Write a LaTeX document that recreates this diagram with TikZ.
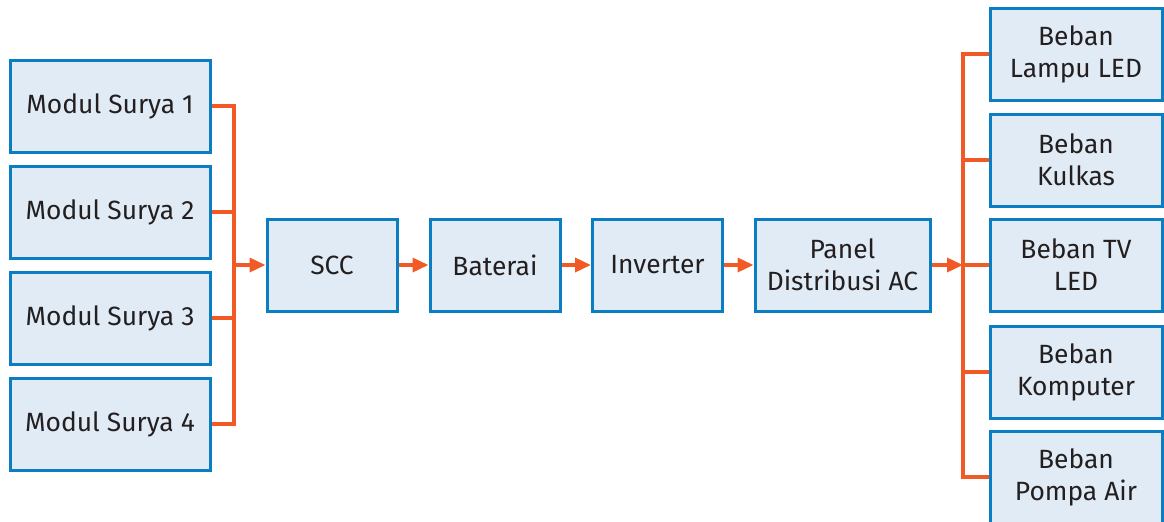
\documentclass[tikz,border=0pt]{standalone}
\usepackage{fontspec}
\setmainfont{Fira Sans}
\usepackage{xcolor}
\usetikzlibrary{arrows.meta,positioning}

\definecolor{boxfill}{HTML}{E1EBF5}
\definecolor{boxline}{HTML}{0B7DC3}
\definecolor{wire}{HTML}{F15A24}
\definecolor{ink}{HTML}{231F20}

\begin{document}
\begin{tikzpicture}[x=0.5pt,y=-0.5pt,
        blok/.style={draw=boxline,fill=boxfill,line width=1.5pt,text=ink,
                align=center,inner sep=0pt,minimum height=46pt,
                font=\fontsize{13.2}{16}\selectfont},
        wire/.style={draw=wire,line width=1.8pt},
        flow/.style={wire,-{Triangle[length=8pt,width=7pt]}}]
        \useasboundingbox (0,0) rectangle (1164,521);
        % panel surya
        \node [blok,minimum width=100pt] (m1) at (110,106) {Modul Surya 1};
        \node [blok,minimum width=100pt] (m2) at (110,212) {Modul Surya 2};
        \node [blok,minimum width=100pt] (m3) at (110,318) {Modul Surya 3};
        \node [blok,minimum width=100pt] (m4) at (110,424) {Modul Surya 4};
        % jalur utama
        \node [blok,minimum width=65pt] (scc) at (332,265) {SCC};
        \node [blok,minimum width=65pt] (bat) at (495,265) {Baterai};
        \node [blok,minimum width=65pt] (inv) at (657.5,265) {Inverter};
        \node [blok,minimum width=87.5pt] (pdac) at (842.5,265) {Panel\\Distribusi AC};
        % beban
        \node [blok,minimum width=86pt] (b1) at (1076,54) {Beban\\Lampu LED};
        \node [blok,minimum width=86pt] (b2) at (1076,160) {Beban\\Kulkas};
        \node [blok,minimum width=86pt] (b3) at (1076,265) {Beban TV\\LED};
        \node [blok,minimum width=86pt] (b4) at (1076,372) {Beban\\Komputer};
        \node [blok,minimum width=86pt] (b5) at (1076,477) {Beban\\Pompa Air};
        \coordinate (lb) at (234,265);
        \coordinate (rb) at (963,265);
        % bus kiri
        \draw [wire] (m1.east) -| (lb) |- (m4.east);
        \draw [wire] (m2.east) -- (m2.east -| lb);
        \draw [wire] (m3.east) -- (m3.east -| lb);
        \draw [flow] (lb) -- (scc.west);
        \draw [flow] (scc) -- (bat);
        \draw [flow] (bat) -- (inv);
        \draw [flow] (inv) -- (pdac);
        \draw [flow] (pdac.east) -- (rb);
        % bus kanan
        \draw [wire] (b1.west) -| (rb) |- (b5.west);
        \draw [wire] (b2.west) -- (b2.west -| rb);
        \draw [wire] (rb) -- (b3.west);
        \draw [wire] (b4.west) -- (b4.west -| rb);
\end{tikzpicture}
\end{document}
